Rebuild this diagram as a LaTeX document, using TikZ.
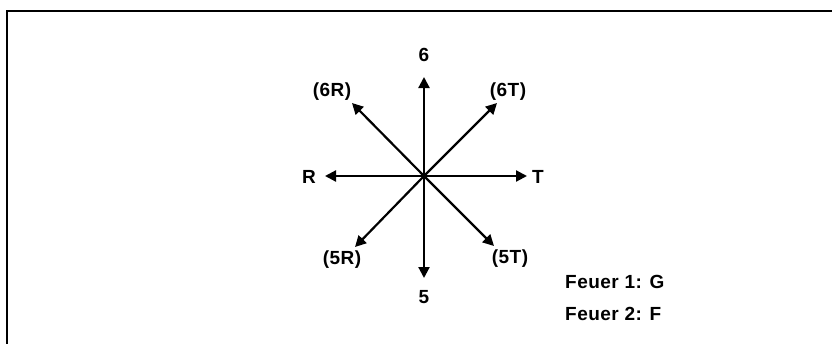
\documentclass[tikz,border=0pt]{standalone}
\usepackage{fontspec}
\setmainfont{Liberation Sans}[LetterSpace=2.5]
\usetikzlibrary{arrows.meta}
\begin{document}
\begin{tikzpicture}[x=1pt,y=-1pt,
  lbl/.style={inner sep=0pt,font=\fontsize{19}{23}\selectfont\bfseries},
  arr/.style={line width=2.2pt,-{Triangle[length=11pt,width=11pt]}},
  frame/.style={line width=2.2pt}]
\useasboundingbox (0,0) rectangle (832,343);
\coordinate (f1) at (7,344);
\coordinate (f2) at (7,11);
\coordinate (f3) at (833,11);
\draw[frame] (f1) -- (f2) -- (f3);
\coordinate (c) at (424,176);
\coordinate (tU) at (424,77);
\coordinate (tD) at (424,278);
\coordinate (tL) at (325,176);
\coordinate (tR) at (527,176);
\coordinate (tUR) at (497,103);
\coordinate (tUL) at (352,103);
\coordinate (tDL) at (355,247);
\coordinate (tDR) at (494,246);
\foreach \t in {tU,tD,tL,tR,tUR,tUL,tDL,tDR} \draw[arr] (c) -- (\t);
\node[lbl] (n6) at (424,55) {6};
\node[lbl] (n5) at (424,297) {5};
\node[lbl] (nR) at (309,177) {R};
\node[lbl] (nT) at (538,177) {T};
\node[lbl] (n6R) at (332,92) {(6R)};
\node[lbl] (n6T) at (508,92) {(6T)};
\node[lbl] (n5R) at (342,260) {(5R)};
\node[lbl] (n5T) at (510,259) {(5T)};
\node[lbl,anchor=base west] (fe1) at (565,288) {Feuer 1: G};
\node[lbl,anchor=base west] (fe2) at (565,320) {Feuer 2: F};
\end{tikzpicture}
\end{document}
